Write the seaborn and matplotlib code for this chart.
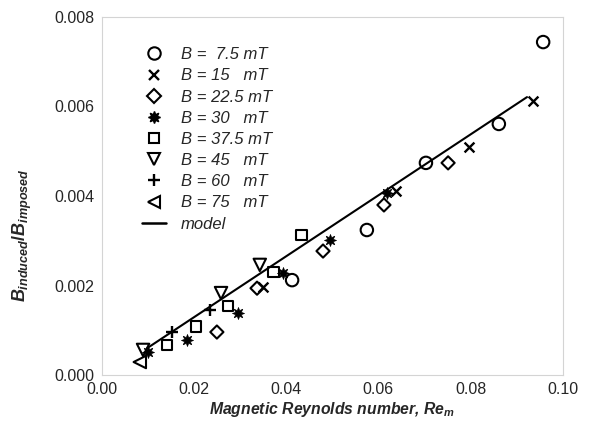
import numpy as np
import pandas as pd
import matplotlib
matplotlib.use("Agg")
import matplotlib.pyplot as plt
import seaborn as sns
from matplotlib.lines import Line2D

# ---- data ----
series_labels = ["B =  7.5 mT", "B = 15   mT", "B = 22.5 mT", "B = 30   mT",
                 "B = 37.5 mT", "B = 45   mT", "B = 60   mT", "B = 75   mT"]

x_7_5 = [0.0957, 0.0861, 0.0703, 0.0575, 0.0413]
y_7_5 = [0.00744, 0.00561, 0.00474, 0.00324, 0.00212]

x_15 = [0.0935, 0.0796, 0.0638, 0.0350]
y_15 = [0.00612, 0.00509, 0.00411, 0.00197]

x_22_5 = [0.0751, 0.0612, 0.0480, 0.0337, 0.0250]
y_22_5 = [0.00474, 0.00380, 0.00277, 0.00194, 0.00096]

x_30 = [0.0619, 0.0495, 0.0393, 0.0296, 0.0185, 0.0101]
y_30 = [0.00407, 0.00302, 0.00228, 0.00139, 0.00078, 0.00051]

x_37_5 = [0.0434, 0.0372, 0.0274, 0.0205, 0.0142]
y_37_5 = [0.00313, 0.00230, 0.00154, 0.00109, 0.00067]

x_45 = [0.0343, 0.0259, 0.0090]
y_45 = [0.00246, 0.00183, 0.00056]

x_60 = [0.0235, 0.0153]
y_60 = [0.00145, 0.00096]

x_75 = [0.0083]
y_75 = [0.00029]

x_model = [0.0099, 0.0922]
y_model = [0.00060, 0.00621]

x_ticks = [0.00, 0.02, 0.04, 0.06, 0.08, 0.10]
x_tick_labels = ["0.00", "0.02", "0.04", "0.06", "0.08", "0.10"]
y_ticks = [0.000, 0.002, 0.004, 0.006, 0.008]
y_tick_labels = ["0.000", "0.002", "0.004", "0.006", "0.008"]

series_x = [x_7_5, x_15, x_22_5, x_30, x_37_5, x_45, x_60, x_75]
series_y = [y_7_5, y_15, y_22_5, y_30, y_37_5, y_45, y_60, y_75]

# ---- style ----
sns.set_style("white")
plt.rcParams["font.family"] = ["Liberation Sans", "DejaVu Sans"]
plt.rcParams["mathtext.fontset"] = "custom"
plt.rcParams["mathtext.it"] = "Liberation Sans:italic:bold"
plt.rcParams["mathtext.rm"] = "Liberation Sans:bold"
plt.rcParams["mathtext.bf"] = "Liberation Sans:italic:bold"

markers = ["o", "x", "D", (8, 1, 0), "s", "v", "+", "<"]
sizes = [80, 50, 45, 75, 60, 80, 80, 80]
kinds = ["open", "line", "open", "fill", "open", "open", "line", "open"]

fig = plt.figure(figsize=(5.89, 4.25), dpi=100)
ax = fig.add_axes([101.5 / 589, 50 / 425, 461.5 / 589, 358 / 425])

handles = []
for xs, ys, lab, m, s, k in zip(series_x, series_y, series_labels, markers, sizes, kinds):
    df = pd.DataFrame({"x": xs, "y": ys})
    if k == "open":
        sns.scatterplot(data=df, x="x", y="y", marker=m, s=s, facecolor="none",
                        edgecolor="black", linewidth=1.5, ax=ax, legend=False)
        h = Line2D([], [], marker=m, linestyle="none", markerfacecolor="none",
                   markeredgecolor="black", markeredgewidth=1.5, markersize=np.sqrt(s))
    elif k == "line":
        sns.scatterplot(data=df, x="x", y="y", marker=m, s=s, color="black",
                        linewidth=1.7, ax=ax, legend=False)
        h = Line2D([], [], marker=m, linestyle="none", color="black",
                   markeredgewidth=1.7, markersize=np.sqrt(s))
    else:
        sns.scatterplot(data=df, x="x", y="y", marker=m, s=s, color="black",
                        edgecolor="black", linewidth=0.5, ax=ax, legend=False)
        h = Line2D([], [], marker=m, linestyle="none", color="black",
                   markersize=np.sqrt(s))
    handles.append(h)

dfm = pd.DataFrame({"x": x_model, "y": y_model})
sns.lineplot(data=dfm, x="x", y="y", color="black", linewidth=1.5, ax=ax, legend=False)
handles.append(Line2D([], [], color="black", linewidth=1.8))
labels = list(series_labels) + ["model"]

ax.set_xlim(0.0, 0.10)
ax.set_ylim(0.0, 0.008)
ax.set_xticks(x_ticks)
ax.set_xticklabels(x_tick_labels)
ax.set_yticks(y_ticks)
ax.set_yticklabels(y_tick_labels)
ax.tick_params(axis="both", labelsize=11.5, direction="in", length=3,
               color="#bbbbbb", width=0.8, pad=5)

for sp in ax.spines.values():
    sp.set_color("#d4d4d4")
    sp.set_linewidth(0.8)

ax.set_xlabel(r"Magnetic Reynolds number, $Re_m$", fontsize=11.3,
              fontweight="bold", fontstyle="italic", labelpad=2)
ax.set_ylabel(r"$B_{induced}/B_{imposed}$", fontsize=13)
ax.yaxis.set_label_coords(-0.146, 0.39)

leg = ax.legend(handles, labels, loc="upper left", bbox_to_anchor=(0.074, 0.934),
                frameon=False, fontsize=12, handlelength=1.4, handletextpad=0.9,
                labelspacing=0.37, borderaxespad=0)
for t in leg.get_texts():
    t.set_fontstyle("italic")

fig.savefig("out.png", dpi=100)
